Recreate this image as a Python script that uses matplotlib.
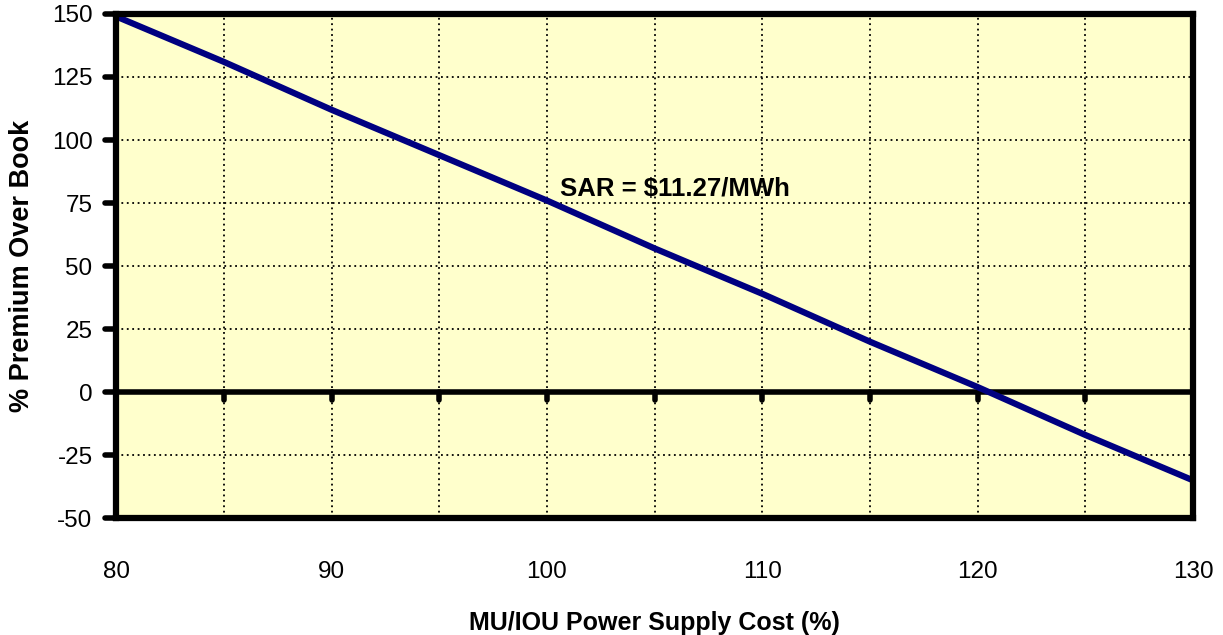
import numpy as np
import matplotlib.pyplot as plt
from matplotlib.markers import MarkerStyle, TICKLEFT

# Values
cost_pct = [80, 85, 90, 95, 100, 105, 110, 115, 120, 125, 130]
premium_pct = [149, 131, 112, 94, 76, 57, 39, 20, 2, -17, -35]

x_major = [80, 90, 100, 110, 120, 130]
x_minor = [85, 95, 105, 115, 125]
zero_ticks = [85, 90, 95, 100, 105, 110, 115, 120, 125]
y_ticks = [-50, -25, 0, 25, 50, 75, 100, 125, 150]

annotation = "SAR = $11.27/MWh"

plt.rcParams["font.family"] = ["Liberation Sans", "DejaVu Sans"]
plt.rcParams["axes.unicode_minus"] = False

fig = plt.figure(figsize=(12.23, 6.35), dpi=100)
ax = fig.add_axes([0.095, 0.184, 0.8805, 0.794])

ax.set_facecolor("#FFFFCC")

ax.plot(
    cost_pct,
    premium_pct,
    color="#000080",
    linewidth=4.5,
    solid_capstyle="butt",
    zorder=4,
)

ax.set_xlim(80, 130)
ax.set_ylim(-50, 150)

ax.set_xticks(x_major)
ax.set_xticks(x_minor, minor=True)
ax.set_yticks(y_ticks)

ax.grid(True, which="both", color="black", linestyle=(0, (1, 2)), linewidth=1.3)

ax.tick_params(axis="x", which="both", length=0, pad=31, labelsize=17.5)
ax.tick_params(axis="y", length=8, width=4, direction="out", pad=9, labelsize=17.5)

# round ends on the y tick marks
for tick in ax.yaxis.get_major_ticks():
    tick.tick1line.set_marker(MarkerStyle(TICKLEFT, capstyle="round"))

for spine in ax.spines.values():
    spine.set_linewidth(4.5)
    spine.set_zorder(5)

# thick zero line with small tick marks hanging below it
ax.axhline(0.0, color="black", linewidth=4, zorder=3)
ax.vlines(zero_ticks, -3.0, 0, color="black", linewidth=4, capstyle="round", zorder=3)

ax.text(
    100.6,
    80.5,
    annotation,
    fontsize=18.5,
    fontweight="bold",
    va="center",
    ha="left",
    zorder=6,
)

ax.set_xlabel("MU/IOU Power Supply Cost (%)", fontsize=18, fontweight="bold", labelpad=20)
ax.set_ylabel("% Premium Over Book", fontsize=19.5, fontweight="bold", labelpad=12)

fig.savefig("out.png", dpi=100)
